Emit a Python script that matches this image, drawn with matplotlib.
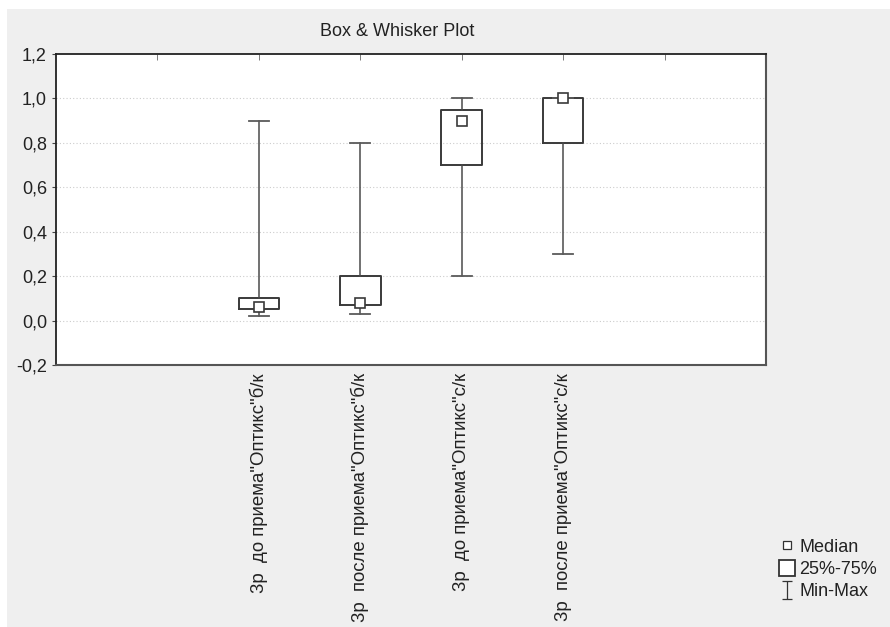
import matplotlib
matplotlib.use("Agg")
import matplotlib.pyplot as plt
from matplotlib.lines import Line2D
from matplotlib.path import Path
from matplotlib.patches import Rectangle

plt.rcParams['font.family'] = ['Liberation Sans', 'DejaVu Sans']

categories = ['3р  до приема"Оптикс"б/к',
              '3р  после приема"Оптикс"б/к',
              '3р  до приема"Оптикс"с/к',
              '3р  после приема"Оптикс"с/к']
medians = [0.06, 0.08, 0.90, 1.00]
q1 = [0.05, 0.07, 0.70, 0.80]
q3 = [0.10, 0.20, 0.95, 1.00]
mins = [0.02, 0.03, 0.20, 0.30]
maxs = [0.90, 0.80, 1.00, 1.00]
positions = [2, 3, 4, 5]
yticks = [-0.2, 0.0, 0.2, 0.4, 0.6, 0.8, 1.0, 1.2]
ytick_labels = ['-0,2', '0,0', '0,2', '0,4', '0,6', '0,8', '1,0', '1,2']

FS = 13

fig = plt.figure(figsize=(8.9, 6.27), dpi=100)
fig.patch.set_facecolor('white')
bg = Rectangle((7/890, 0), 1, 1 - 9/627, transform=fig.transFigure,
               facecolor='#efefef', edgecolor='none', zorder=-10)
fig.patches.append(bg)

ax = fig.add_axes([56/890, 1 - 365/627, 710/890, 311/627])
ax.set_facecolor('white')

stats = []
for c, md, a, b, lo, hi in zip(categories, medians, q1, q3, mins, maxs):
    stats.append(dict(label=c, med=md, q1=a, q3=b, whislo=lo, whishi=hi, fliers=[]))

ax.bxp(stats, positions=positions, widths=0.4, capwidths=0.2,
       showfliers=False, patch_artist=False,
       boxprops=dict(color='#3a3a3a', linewidth=1.4),
       whiskerprops=dict(color='#4a4a4a', linewidth=1.1),
       capprops=dict(color='#5a5a5a', linewidth=1.3),
       medianprops=dict(linewidth=0))
ax.plot(positions, medians, linestyle='none', marker='s', markersize=7.5,
        markerfacecolor='white', markeredgecolor='#3a3a3a', markeredgewidth=1.2,
        zorder=5)

ax.set_xlim(0, 7)
ax.set_ylim(-0.2, 1.2)
ax.set_yticks(yticks)
ax.set_yticklabels(ytick_labels, fontsize=FS, color='#222222')
ax.set_xticks(positions)
ax.set_xticklabels(categories, rotation=90, fontsize=13.4, color='#222222')
ax.xaxis.remove_overlapping_locs = False
ax.set_xticks(range(1, 7), minor=True)
ax.tick_params(axis='x', which='major', length=0, pad=6)
ax.tick_params(axis='x', which='minor', top=True, bottom=False, direction='in',
               length=4, color='#666666')
ax.tick_params(axis='y', which='major', direction='out', length=3, color='#444444')
for v in [0.0, 0.2, 0.4, 0.6, 0.8, 1.0]:
    ax.axhline(v, color='#cccccc', linestyle=(0, (1, 2)), linewidth=0.8, zorder=0)

for s in ['left', 'top']:
    ax.spines[s].set_color('#222222')
    ax.spines[s].set_linewidth(1.3)
for s in ['right', 'bottom']:
    ax.spines[s].set_color('#555555')
    ax.spines[s].set_linewidth(1.5)

fig.text(397/890, 1 - 32/627, 'Box & Whisker Plot', ha='center', va='center',
         fontsize=FS, color='#222222')

ibeam = Path([(-0.5, -1), (0.5, -1), (0, -1), (0, 1), (-0.5, 1), (0.5, 1)],
             [Path.MOVETO, Path.LINETO, Path.MOVETO, Path.LINETO, Path.MOVETO, Path.LINETO])
handles = [
    Line2D([], [], linestyle='none', marker='s', markersize=6, markerfacecolor='white',
           markeredgecolor='#333333', markeredgewidth=0.9),
    Line2D([], [], linestyle='none', marker='s', markersize=12, markerfacecolor='white',
           markeredgecolor='#333333', markeredgewidth=1.3),
    Line2D([], [], linestyle='none', marker=ibeam, markersize=13,
           markeredgecolor='#333333', markeredgewidth=0.9),
]
leg = fig.legend(handles, ['Median', '25%-75%', 'Min-Max'], loc='lower left',
                 bbox_to_anchor=(765/890, 1 - 613/627), frameon=False,
                 fontsize=FS, handlelength=1.0, handletextpad=0.2,
                 labelspacing=0.3, borderpad=0.2)
for t in leg.get_texts():
    t.set_color('#222222')

fig.savefig('out.png', dpi=100)
